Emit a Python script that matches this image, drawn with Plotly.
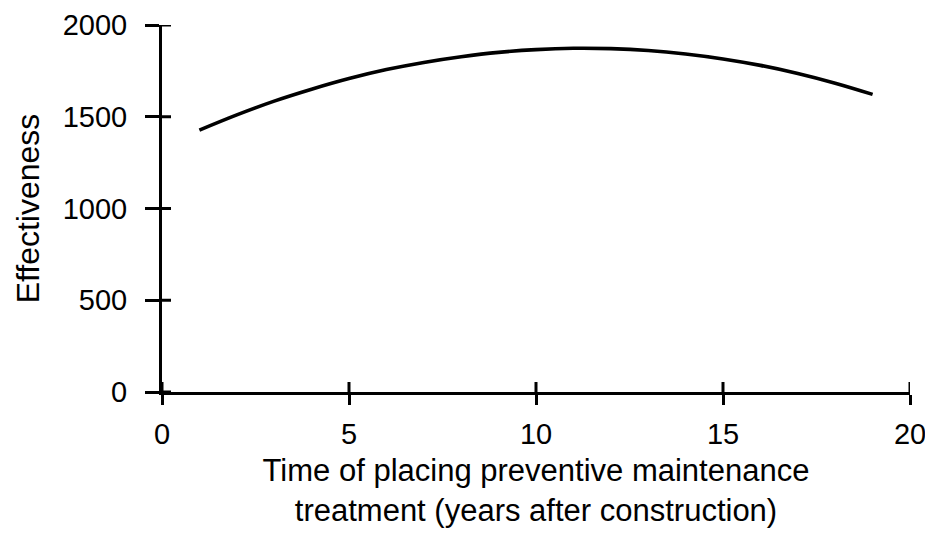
import plotly.graph_objects as go

years = [1, 2, 3, 4, 5, 6, 7, 8, 9, 10, 11, 12, 13, 14, 15, 16, 17, 18, 19]
effectiveness = [1427, 1510, 1585, 1650, 1708, 1757, 1796, 1827, 1851, 1866, 1873,
                 1871, 1861, 1842, 1815, 1780, 1736, 1683, 1622]

x_ticks = [0, 5, 10, 15, 20]
y_ticks = [0, 500, 1000, 1500, 2000]

FONT = "Liberation Sans, Arial, sans-serif"

fig = go.Figure()
fig.add_trace(go.Scatter(x=years, y=effectiveness, mode="lines",
                         line=dict(color="black", width=3.6, shape="spline"),
                         showlegend=False, hoverinfo="skip"))

common = dict(showgrid=False, zeroline=False, automargin=False, showline=True,
              linecolor="black", linewidth=3, tickwidth=3, tickcolor="black",
              ticks="outside", tickfont=dict(size=29))

# page body adds an 8px offset, so the figure is sized/margined to compensate
fig.update_layout(
    width=925, height=526,
    paper_bgcolor="white", plot_bgcolor="white",
    margin=dict(l=154, r=23, t=17, b=142, autoexpand=False),
    font=dict(family=FONT, color="black", size=29),
    xaxis=dict(**common, range=[0, 20], tickvals=x_ticks, ticklen=10, ticklabelstandoff=4,
               title=dict(text="Time of placing preventive maintenance<br>treatment (years after construction)",
                          font=dict(size=31), standoff=11)),
    yaxis=dict(**common, range=[0, 2000], tickvals=y_ticks, ticklen=14, ticklabelstandoff=12,
               title=dict(text="Effectiveness", font=dict(size=32), standoff=14)),
)

# inner halves of the crossing tick marks (pixel-sized, anchored at each tick value)
for t in x_ticks:
    fig.add_shape(type="line", xref="x", yref="y", x0=t, x1=t,
                  ysizemode="pixel", yanchor=0, y0=0, y1=10,
                  line=dict(color="black", width=3))
for t in y_ticks:
    fig.add_shape(type="line", xref="x", yref="y", y0=t, y1=t,
                  xsizemode="pixel", xanchor=0, x0=0, x1=9,
                  line=dict(color="black", width=3))

fig.write_html("out.html")
